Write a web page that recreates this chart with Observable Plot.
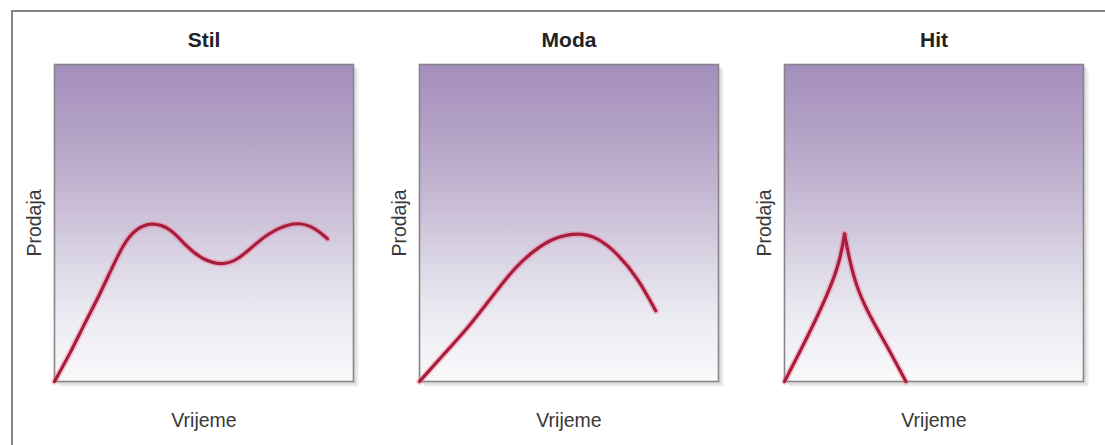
<!DOCTYPE html>
<html>
<head>
<meta charset="utf-8">
<script src="https://cdn.jsdelivr.net/npm/d3@7"></script>
<script src="https://cdn.jsdelivr.net/npm/@observablehq/plot@0.6"></script>
<style>
  html, body { margin: 0; padding: 0; background: #fff; }
  #wrap { position: relative; width: 1105px; height: 445px; overflow: hidden; }
  #border { position: absolute; left: 11px; top: 10px; right: -10px; bottom: -10px;
            border-top: 2px solid #858585; border-left: 2px solid #858585; }
  #wrap svg { position: absolute; left: 0; top: 0; }
</style>
</head>
<body>
<div id="wrap"><div id="border"></div></div>
<script>
// Panel titles (product life-cycle types)
const panels = ["Stil", "Moda", "Hit"];
const yLabel = "Prodaja";
const xLabel = "Vrijeme";

// Stil curve (time 0..100, sales 0..100)
const stilTime  = [0, 5.7, 10, 14.7, 19, 23, 26.7, 32.3, 39, 44, 49.7, 56.3, 61.7, 68.3, 75, 81.7, 87.3, 91.3];
const stilSales = [0, 9.7, 18.2, 26.6, 35.4, 43.2, 47.8, 50.4, 48.3, 42.6, 38.3, 36.6, 38.5, 44.5, 48.6, 50.4, 48.4, 45];

// Moda curve
const modaTime  = [0, 8.3, 16.3, 24, 31.7, 38.3, 45, 53, 59.7, 66.3, 73, 79];
const modaSales = [0, 8.8, 17, 26.4, 35.8, 41.4, 45.4, 47, 45.4, 40.3, 32.7, 22.3];

// Hit curve: rising and falling branches meeting at a sharp peak
const hitRiseTime  = [0, 5.5, 11, 15.5, 18.5, 20.1];
const hitRiseSales = [0, 10, 20.5, 30, 38, 46.5];
const hitFallTime  = [20.1, 21.8, 24.5, 29, 34.2, 40.6];
const hitFallSales = [46.5, 38, 28.6, 19.8, 11.4, 0];

const rows = [];
stilTime.forEach((t, i) => rows.push({panel: "Stil", seg: "a", t, s: stilSales[i]}));
modaTime.forEach((t, i) => rows.push({panel: "Moda", seg: "a", t, s: modaSales[i]}));
hitRiseTime.forEach((t, i) => rows.push({panel: "Hit", seg: "a", t, s: hitRiseSales[i]}));
hitFallTime.forEach((t, i) => rows.push({panel: "Hit", seg: "b", t, s: hitFallSales[i]}));

const font = "Liberation Sans, Arial, sans-serif";

const svg = Plot.plot({
  width: 1105,
  height: 445,
  marginLeft: 53,
  marginRight: 20,
  marginTop: 64,
  marginBottom: 64,
  style: {fontFamily: font, background: "transparent"},
  fx: {domain: panels, paddingInner: 0.18, paddingOuter: 0, axis: null, label: null},
  x: {domain: [0, 100], axis: null},
  y: {domain: [0, 100], axis: null},
  marks: [
    // soft drop shadow
    Plot.frame({fill: "#eeeeee", stroke: null, dx: 5, dy: 5}),
    Plot.frame({fill: "#dedede", stroke: null, dx: 3, dy: 3}),
    // gradient panel
    Plot.frame({fill: "url(#panelGrad)", stroke: "#86858a", strokeWidth: 1.6}),
    // glow under the curve
    Plot.line(rows, {fx: "panel", x: "t", y: "s", z: "seg", curve: "basis",
      stroke: "#f06a8a", strokeWidth: 6.5, strokeOpacity: 0.35}),
    Plot.line(rows, {fx: "panel", x: "t", y: "s", z: "seg", curve: "basis",
      stroke: "#a81d3c", strokeWidth: 3.2}),
    // titles
    Plot.text(panels, {fx: d => d, text: d => d, frameAnchor: "top", lineAnchor: "middle", dy: -24,
      fontSize: 21, fontWeight: "bold", fill: "#222", fontFamily: font}),
    // y label
    Plot.text(panels, {fx: d => d, text: () => yLabel, frameAnchor: "left", textAnchor: "middle",
      lineAnchor: "middle", dx: -20, rotate: -90, fontSize: 19.5, fill: "#383838", fontFamily: font}),
    // x label
    Plot.text(panels, {fx: d => d, text: () => xLabel, frameAnchor: "bottom", lineAnchor: "middle", dy: 39,
      fontSize: 19.5, fill: "#383838", fontFamily: font})
  ]
});

const defs = d3.select(svg).insert("defs", ":first-child");
const grad = defs.append("linearGradient")
  .attr("id", "panelGrad").attr("x1", 0).attr("y1", 0).attr("x2", 0).attr("y2", 1);
[["0%", "#a48ebd"], ["20%", "#b3a0c5"], ["45%", "#c9bdd6"], ["62%", "#dbd6e5"],
 ["80%", "#ecebf2"], ["100%", "#f9f9fb"]].forEach(([o, c]) =>
  grad.append("stop").attr("offset", o).attr("stop-color", c));

document.getElementById("wrap").appendChild(svg);
</script>
</body>
</html>
